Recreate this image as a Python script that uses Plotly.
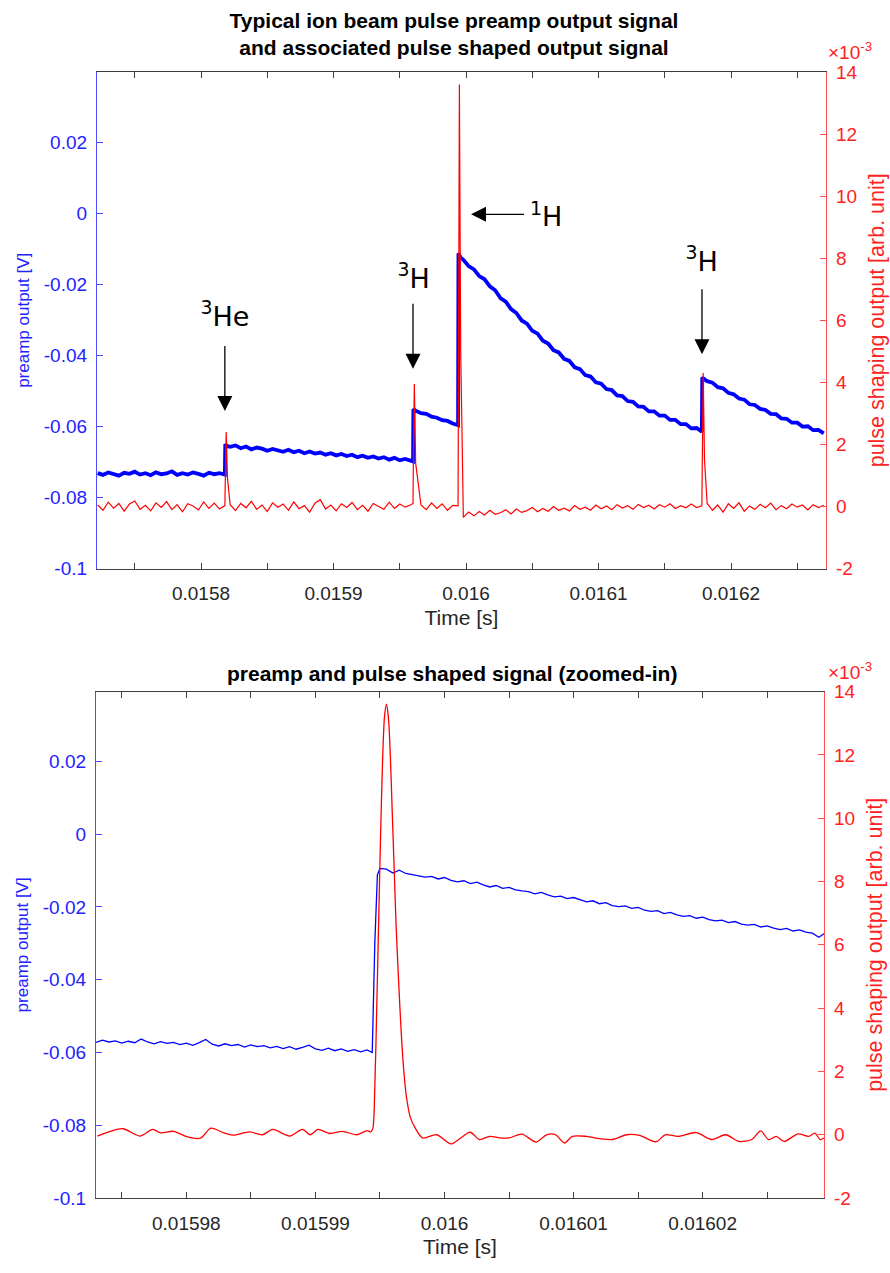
import plotly.graph_objects as go

# ---------------- data ----------------
# Top panel: common sampling times in microseconds
t_top_us = [
    15722, 15726, 15730, 15734, 15738, 15742, 15746, 15750, 15754, 15758,
    15762, 15766, 15770, 15774, 15778, 15782, 15786, 15790, 15794, 15798,
    15802, 15806, 15810, 15814, 15818,
    15818.3, 15819, 15820,
    15822, 15826, 15830, 15834, 15838, 15842, 15846, 15850, 15854, 15858,
    15862, 15866, 15870, 15874, 15878, 15882, 15886, 15890, 15894, 15898,
    15902, 15906, 15910, 15914, 15918, 15922, 15926, 15930, 15934, 15938,
    15942, 15946, 15950, 15954, 15958,
    15960, 15960.3, 15961,
    15962, 15966, 15970, 15974, 15978, 15982, 15986, 15990, 15994,
    15994.3, 15995, 15996,
    15998, 16002, 16006, 16010, 16014, 16018, 16022, 16026, 16030, 16034,
    16038, 16042, 16046, 16050, 16054, 16058, 16062, 16066, 16070, 16074,
    16078, 16082, 16086, 16090, 16094, 16098, 16102, 16106, 16110, 16114,
    16118, 16122, 16126, 16130, 16134, 16138, 16142, 16146, 16150, 16154,
    16158, 16162, 16166, 16170, 16174, 16178,
    16178.3, 16179, 16180,
    16182, 16186, 16190, 16194, 16198, 16202, 16206, 16210, 16214, 16218,
    16222, 16226, 16230, 16234, 16238, 16242, 16246, 16250, 16254, 16258,
    16262, 16266, 16270]

# preamp output [V], top panel
preamp_top_V = [
    -0.0731, -0.0736, -0.0729, -0.0734, -0.0738, -0.0730, -0.0733, -0.0727, -0.0735, -0.0731,
    -0.0737, -0.0729, -0.0734, -0.0732, -0.0726, -0.0736, -0.0731, -0.0735, -0.0729, -0.0733,
    -0.0738, -0.0730, -0.0734, -0.0731, -0.0735,
    -0.0650, -0.0652, -0.0655,
    -0.0657, -0.0653, -0.0661, -0.0656, -0.0664, -0.0659, -0.0662, -0.0668, -0.0663, -0.0666,
    -0.0671, -0.0665, -0.0672, -0.0668, -0.0675, -0.0670, -0.0676, -0.0673, -0.0679, -0.0675,
    -0.0681, -0.0677, -0.0683, -0.0679, -0.0686, -0.0682, -0.0688, -0.0684, -0.0690, -0.0686,
    -0.0693, -0.0688, -0.0695, -0.0691, -0.0697,
    -0.0698, -0.0551, -0.0553,
    -0.0555, -0.0562, -0.0564, -0.0572, -0.0575, -0.0582, -0.0584, -0.0591, -0.0596,
    -0.0112, -0.0117, -0.0124,
    -0.0130, -0.0148, -0.0157, -0.0176, -0.0185, -0.0205, -0.0216, -0.0238, -0.0248, -0.0269,
    -0.0280, -0.0301, -0.0310, -0.0330, -0.0338, -0.0358, -0.0366, -0.0385, -0.0391, -0.0409,
    -0.0415, -0.0433, -0.0438, -0.0455, -0.0459, -0.0475, -0.0479, -0.0494, -0.0497, -0.0512,
    -0.0514, -0.0528, -0.0530, -0.0543, -0.0544, -0.0557, -0.0557, -0.0569, -0.0569, -0.0581,
    -0.0581, -0.0593, -0.0593, -0.0605, -0.0604, -0.0614,
    -0.0462, -0.0464, -0.0467,
    -0.0472, -0.0476, -0.0489, -0.0492, -0.0505, -0.0509, -0.0521, -0.0524, -0.0537, -0.0539,
    -0.0550, -0.0553, -0.0564, -0.0565, -0.0577, -0.0578, -0.0589, -0.0589, -0.0600, -0.0599,
    -0.0610, -0.0609, -0.0619]

# pulse shaping output [x1e-3 arb. unit], top panel
shaped_top = [
    0.05, -0.12, 0.14, -0.05, 0.10, -0.15, 0.08, 0.18, -0.09, 0.04,
    -0.14, 0.12, -0.03, 0.16, -0.10, 0.06, -0.17, 0.09, 0.02, -0.11,
    0.15, -0.06, 0.11, -0.08, 0.03,
    1.0, 2.4, 0.9,
    0.06, -0.13, 0.10, -0.04, 0.17, -0.09, 0.05, -0.16, 0.12, -0.02,
    0.08, -0.12, 0.15, -0.07, 0.03, -0.18, 0.11, 0.22, -0.08, 0.05,
    -0.14, 0.09, -0.03, 0.13, -0.10, 0.04, -0.15, 0.10, 0.01, -0.09,
    0.14, -0.06, 0.08, -0.02, 0.05,
    0.1, 1.6, 3.95,
    1.4, 0.05, -0.10, 0.12, -0.06, 0.09, -0.12, 0.04, 0.02,
    4.5, 13.6, 5.0,
    -0.35, -0.18, -0.30, -0.16, -0.27, -0.12, -0.25, -0.20, -0.10, -0.24,
    -0.08, -0.19, -0.13, -0.03, -0.17, -0.06, -0.15, 0.00, -0.12, -0.05,
    -0.14, 0.03, -0.09, -0.02, -0.12, 0.05, -0.07, 0.02, -0.10, 0.06,
    -0.05, 0.03, -0.09, 0.07, -0.03, 0.04, -0.08, 0.06, -0.02, 0.09,
    -0.06, 0.03, -0.04, 0.08, -0.03, 0.02,
    1.8, 4.3, 1.5,
    0.10, -0.12, 0.05, -0.18, 0.09, -0.06, 0.12, -0.15, 0.02, -0.09,
    0.07, -0.04, 0.11, -0.10, 0.03, -0.07, 0.08, -0.02, 0.05, -0.11,
    0.06, -0.03, 0.04]

# Bottom panel (zoomed-in): preamp samples
t_bot_blue_us = [
    15973.0, 15973.5, 15974.0, 15974.5, 15975.0, 15975.5, 15976.0, 15976.5, 15977.0, 15977.5,
    15978.0, 15978.5, 15979.0, 15979.5, 15980.0, 15980.5, 15981.0, 15981.5, 15982.0, 15982.5,
    15983.0, 15983.5, 15984.0, 15984.5, 15985.0, 15985.5, 15986.0, 15986.5, 15987.0, 15987.5,
    15988.0, 15988.5, 15989.0, 15989.5, 15990.0, 15990.5, 15991.0, 15991.5, 15992.0, 15992.5,
    15993.0, 15993.5, 15994.0,
    15994.4, 15994.6, 15994.8,
    15995.0, 15995.5, 15996.0, 15996.5, 15997.0, 15997.5, 15998.0, 15998.5, 15999.0, 15999.5,
    16000.0, 16000.5, 16001.0, 16001.5, 16002.0, 16002.5, 16003.0, 16003.5, 16004.0, 16004.5,
    16005.0, 16005.5, 16006.0, 16006.5, 16007.0, 16007.5, 16008.0, 16008.5, 16009.0, 16009.5,
    16010.0, 16010.5, 16011.0, 16011.5, 16012.0, 16012.5, 16013.0, 16013.5, 16014.0, 16014.5,
    16015.0, 16015.5, 16016.0, 16016.5, 16017.0, 16017.5, 16018.0, 16018.5, 16019.0, 16019.5,
    16020.0, 16020.5, 16021.0, 16021.5, 16022.0, 16022.5, 16023.0, 16023.5, 16024.0, 16024.5,
    16025.0, 16025.5, 16026.0, 16026.5, 16027.0, 16027.5, 16028.0, 16028.5, 16029.0, 16029.5]

preamp_bot_V = [
    -0.0572, -0.0566, -0.0571, -0.0568, -0.0574, -0.0569, -0.0573, -0.0563, -0.0571, -0.0576,
    -0.0570, -0.0575, -0.0572, -0.0578, -0.0574, -0.0580, -0.0573, -0.0564, -0.0577, -0.0582,
    -0.0576, -0.0581, -0.0578, -0.0585, -0.0579, -0.0584, -0.0581, -0.0587, -0.0583, -0.0589,
    -0.0584, -0.0591, -0.0586, -0.0580, -0.0590, -0.0594, -0.0588, -0.0595, -0.0590, -0.0597,
    -0.0592, -0.0598, -0.0593,
    -0.0600, -0.0300, -0.0112,
    -0.0094, -0.0096, -0.0107, -0.0099, -0.0108, -0.0112, -0.0115, -0.0118, -0.0116, -0.0123,
    -0.0119, -0.0127, -0.0131, -0.0128, -0.0136, -0.0132, -0.0139, -0.0145, -0.0141, -0.0149,
    -0.0146, -0.0153, -0.0156, -0.0158, -0.0164, -0.0160, -0.0167, -0.0172, -0.0170, -0.0177,
    -0.0174, -0.0181, -0.0186, -0.0183, -0.0191, -0.0188, -0.0196, -0.0199, -0.0197, -0.0204,
    -0.0201, -0.0209, -0.0212, -0.0210, -0.0218, -0.0215, -0.0222, -0.0226, -0.0224, -0.0231,
    -0.0228, -0.0235, -0.0238, -0.0236, -0.0243, -0.0240, -0.0247, -0.0250, -0.0248, -0.0255,
    -0.0252, -0.0258, -0.0262, -0.0259, -0.0266, -0.0263, -0.0269, -0.0272, -0.0283, -0.0271]

# Bottom panel: pulse shaping samples [x1e-3 arb. unit]
t_bot_red_us = [
    15973.1, 15974.1, 15975.1, 15976.4, 15977.4, 15978.0, 15979.0, 15980.1, 15981.1, 15981.9,
    15982.9, 15983.6, 15984.9, 15985.9, 15986.7, 15988.0, 15989.0, 15989.6, 15990.2, 15991.1,
    15992.1, 15993.2, 15994.0, 15994.3,
    15994.45, 15994.6, 15994.75, 15994.9, 15995.05, 15995.2, 15995.35, 15995.5, 15995.65, 15995.8,
    15995.95, 15996.1, 15996.25, 15996.45, 15996.65, 15996.85, 15997.05, 15997.35, 15997.75,
    15998.3, 15999.4, 16000.5, 16001.2, 16002.0, 16002.7, 16003.5, 16004.3, 16005.0, 16006.0,
    16007.1, 16007.9, 16008.6, 16009.3, 16009.9, 16011.0, 16012.0, 16013.0, 16014.1, 16015.1,
    16016.4, 16017.1, 16018.1, 16019.5, 16020.7, 16021.8, 16022.8, 16023.8, 16024.5, 16025.1,
    16025.7, 16026.3, 16027.4, 16028.2, 16028.7, 16029.1, 16029.4]

shaped_bot = [
    -0.04, 0.11, 0.19, -0.04, 0.17, 0.06, 0.11, -0.07, -0.11, 0.21,
    0.06, -0.01, 0.09, 0.00, 0.17, -0.04, 0.17, 0.00, 0.17, 0.04,
    0.11, 0.00, 0.13, 0.09,
    0.2, 1.5, 4.0, 6.8, 9.5, 11.8, 13.2, 13.6, 13.2, 12.0,
    10.2, 8.4, 6.6, 4.8, 3.2, 2.0, 1.2, 0.55, 0.2,
    -0.10, 0.00, -0.29, -0.12, 0.08, -0.15, -0.05, -0.10, -0.10, 0.02,
    -0.23, 0.00, 0.00, -0.26, -0.05, -0.05, -0.12, -0.15, 0.00, -0.02,
    -0.22, 0.00, -0.05, 0.07, -0.15, 0.00, -0.21, -0.15, 0.12, -0.15,
    -0.05, -0.21, 0.03, -0.05, 0.05, -0.15, -0.10]

# tick labels
top_xticks = [0.0158, 0.0159, 0.016, 0.0161, 0.0162]
top_xtext = ["0.0158", "0.0159", "0.016", "0.0161", "0.0162"]
top_xminor = [0.01575, 0.01585, 0.01595, 0.01605, 0.01615, 0.01625]
bot_xticks = [0.01598, 0.01599, 0.016, 0.01601, 0.01602]
bot_xtext = ["0.01598", "0.01599", "0.016", "0.01601", "0.01602"]
bot_xminor = [0.015975, 0.015985, 0.015995, 0.016005, 0.016015, 0.016025]
left_yticks = [-0.1, -0.08, -0.06, -0.04, -0.02, 0, 0.02]
left_ytext = ["-0.1", "-0.08", "-0.06", "-0.04", "-0.02", "0", "0.02"]
right_yticks = [-2, 0, 2, 4, 6, 8, 10, 12, 14]
right_ytext = ["-2", "0", "2", "4", "6", "8", "10", "12", "14"]

# isotope labels: (label, event time [s], arrow tip level [V])
iso_labels = ["<sup>3</sup>He", "<sup>3</sup>H", "<sup>1</sup>H", "<sup>3</sup>H"]
iso_times = [0.015818, 0.0159600, 0.0160038, 0.0161781]
iso_tip_V = [-0.0556, -0.0437, -0.0002, -0.0396]

assert len(t_top_us) == len(preamp_top_V) == len(shaped_top)
assert len(t_bot_blue_us) == len(preamp_bot_V)
assert len(t_bot_red_us) == len(shaped_bot)

t_top_s = [v * 1e-6 for v in t_top_us]
t_bot_blue_s = [v * 1e-6 for v in t_bot_blue_us]
t_bot_red_s = [v * 1e-6 for v in t_bot_red_us]

# ---------------- figure ----------------
W, H = 890, 1273
def px(x):
    return x / W
def py(y):
    return 1 - y / H

BLUE = "#0000ff"
RED = "#ff0000"
BLUE_AX = "#4d4dff"
RED_AX = "#ff4d4d"
BLUE_TXT = "#2222ff"
RED_TXT = "#ff2222"
GRAY = "#404040"
FONT = "Liberation Sans, Arial, sans-serif"

fig = go.Figure()
fig.add_trace(go.Scatter(x=t_top_s, y=preamp_top_V, mode="lines",
                         line=dict(color=BLUE, width=3.8), xaxis="x", yaxis="y"))
fig.add_trace(go.Scatter(x=t_top_s, y=shaped_top, mode="lines",
                         line=dict(color=RED, width=1.2), xaxis="x", yaxis="y2"))
fig.add_trace(go.Scatter(x=t_bot_blue_s, y=preamp_bot_V, mode="lines",
                         line=dict(color=BLUE, width=1.3), xaxis="x2", yaxis="y3"))
fig.add_trace(go.Scatter(x=t_bot_red_s, y=shaped_bot, mode="lines",
                         line=dict(color=RED, width=1.3, shape="spline", smoothing=0.8),
                         xaxis="x2", yaxis="y4"))

def xax(domain, anchor, rng, tv, tt, minor_vals):
    return dict(domain=domain, anchor=anchor, range=rng, tickvals=tv, ticktext=tt,
                ticks="inside", ticklen=6, tickcolor=GRAY, showline=True, linecolor=GRAY,
                linewidth=1, mirror="ticks", showgrid=False, zeroline=False,
                minor=dict(tickvals=minor_vals, ticks="inside", ticklen=6, tickcolor=GRAY,
                           showgrid=False),
                tickfont=dict(family=FONT, size=19, color="#262626"),
                ticklabelstandoff=8,
                title=dict(text="Time [s]", standoff=6,
                           font=dict(family=FONT, size=21, color="#262626")))

def yleft(domain, anchor, rng):
    return dict(domain=domain, anchor=anchor, range=rng, tickvals=left_yticks,
                ticktext=left_ytext, ticks="inside", ticklen=6, tickcolor=BLUE_AX,
                showline=True, linecolor=BLUE_AX, linewidth=1.2, showgrid=False,
                zeroline=False, tickfont=dict(family=FONT, size=19, color=BLUE_TXT),
                ticklabelstandoff=5,
                title=dict(text="preamp output [V]", standoff=9,
                           font=dict(family=FONT, size=17, color=BLUE_TXT)))

def yright(overlay, anchor):
    return dict(overlaying=overlay, anchor=anchor, side="right", range=[-2, 14],
                tickvals=right_yticks, ticktext=right_ytext, ticks="inside", ticklen=6,
                tickcolor=RED_AX, showline=True, linecolor=RED_AX, linewidth=1.2,
                showgrid=False, zeroline=False,
                tickfont=dict(family=FONT, size=19, color=RED_TXT), ticklabelstandoff=5,
                title=dict(text="pulse shaping output [arb. unit]", standoff=12,
                           font=dict(family=FONT, size=21.5, color=RED_TXT)))

top_dom_x = [px(97), px(826)]
top_dom_y = [py(568), py(63)]
bot_dom_x = [px(96), px(824)]
bot_dom_y = [py(1208), py(693)]

fig.update_layout(
    width=W, height=H, margin=dict(l=0, r=0, t=0, b=0),
    paper_bgcolor="white", plot_bgcolor="white", showlegend=False,
    title=dict(text="<b>Typical ion beam pulse preamp output signal<br>"
                    "and associated pulse shaped output signal</b>",
               x=px(454), xanchor="center", y=py(28), yanchor="middle",
               font=dict(family=FONT, size=21, color="#000000")),
    xaxis=xax(top_dom_x, "y", [0.0157215, 0.0162717], top_xticks, top_xtext, top_xminor),
    yaxis=yleft(top_dom_y, "x", [-0.1, 0.0399]),
    yaxis2=yright("y", "x"),
    xaxis2=xax(bot_dom_x, "y3", [0.0159730, 0.0160294], bot_xticks, bot_xtext, bot_xminor),
    yaxis3=yleft(bot_dom_y, "x2", [-0.1, 0.0392]),
    yaxis4=yright("y3", "x2"),
)

ann = []
def text(x, y, s, size, color="#000000", angle=0, family=FONT, xanchor="center", yanchor="middle"):
    ann.append(dict(xref="paper", yref="paper", x=px(x), y=py(y), text=s, showarrow=False,
                    textangle=angle, xanchor=xanchor, yanchor=yanchor,
                    font=dict(family=family, size=size, color=color)))

# bottom panel title
text(452, 675, "<b>preamp and pulse shaped signal (zoomed-in)</b>", 21)
# exponent labels
text(826, 56, "×10<sup>-3</sup>", 19, RED_TXT, xanchor="left", yanchor="bottom")
text(826, 686, "×10<sup>-3</sup>", 19, RED_TXT, xanchor="left", yanchor="bottom")

# isotope labels with arrows pointing at the events (top panel)
ANN_FONT = "DejaVu Sans, Verdana, sans-serif"
label_dx = [0, 0, 75, 0]
label_dy = [-97, -93, 0, -95]
label_pad = [14.5, 10.5, 6, 12.5]
for s, tx, tv, dx, dy, pad in zip(iso_labels, iso_times, iso_tip_V, label_dx, label_dy, label_pad):
    ann.append(dict(xref="x", yref="y", x=tx, y=tv, text=s, showarrow=True,
                    ax=dx, ay=dy, arrowhead=2, arrowsize=2.3, arrowwidth=1.3,
                    arrowcolor="#000000", standoff=0, borderpad=pad, borderwidth=0,
                    font=dict(family=ANN_FONT, size=27, color="#000000")))

fig.update_layout(annotations=ann)
fig.write_html("out.html")
